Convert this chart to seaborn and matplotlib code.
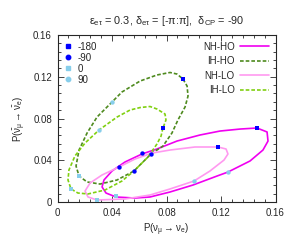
import numpy as np
import pandas as pd
import matplotlib
matplotlib.use('Agg')
import matplotlib.pyplot as plt
import seaborn as sns
from matplotlib.ticker import MultipleLocator
from matplotlib.lines import Line2D

# curves traced around delta_et = -180 -> 180 (first point is -180)
nh_ho_x = [0.1464, 0.1340, 0.1193, 0.1046, 0.0877, 0.0730, 0.0620, 0.0495, 0.0400, 0.0341, 0.0327, 0.0356,
           0.0429, 0.0569, 0.0679, 0.0826, 0.0995, 0.1171, 0.1251, 0.1413, 0.1508, 0.1545, 0.1538]
nh_ho_y = [0.0709, 0.0699, 0.0680, 0.0642, 0.0584, 0.0508, 0.0460, 0.0383, 0.0297, 0.0211, 0.0144, 0.0086,
           0.0048, 0.0038, 0.0048, 0.0096, 0.0163, 0.0249, 0.0287, 0.0393, 0.0498, 0.0584, 0.0671]

ih_ho_x = [0.0921, 0.0951, 0.0958, 0.0936, 0.0884, 0.0840, 0.0774, 0.0686, 0.0561, 0.0437, 0.0312, 0.0217,
           0.0158, 0.0136, 0.0158, 0.0217, 0.0290, 0.0400, 0.0473, 0.0606, 0.0730, 0.0826, 0.0877]
ih_ho_y = [0.1178, 0.1111, 0.1015, 0.0910, 0.0786, 0.0661, 0.0536, 0.0460, 0.0297, 0.0211, 0.0172, 0.0192,
           0.0249, 0.0345, 0.0498, 0.0661, 0.0814, 0.0958, 0.1054, 0.1159, 0.1217, 0.1241, 0.1226]

nh_lo_x = [0.1178, 0.1009, 0.0826, 0.0694, 0.0569, 0.0451, 0.0327, 0.0239, 0.0202, 0.0224, 0.0290, 0.0495,
           0.0679, 0.0826, 0.1002, 0.1119, 0.1222, 0.1251, 0.1237]
nh_lo_y = [0.0527, 0.0527, 0.0498, 0.0469, 0.0412, 0.0335, 0.0259, 0.0182, 0.0105, 0.0048, 0.0019, 0.0029,
           0.0067, 0.0125, 0.0201, 0.0297, 0.0402, 0.0460, 0.0508]

ih_lo_x = [0.0774, 0.0760, 0.0730, 0.0664, 0.0561, 0.0473, 0.0349, 0.0224, 0.0150, 0.0099, 0.0077, 0.0084,
           0.0128, 0.0202, 0.0305, 0.0437, 0.0532, 0.0606, 0.0679, 0.0730, 0.0789, 0.0796]
ih_lo_y = [0.0709, 0.0632, 0.0556, 0.0431, 0.0297, 0.0201, 0.0115, 0.0077, 0.0086, 0.0125, 0.0211, 0.0307,
           0.0441, 0.0565, 0.0690, 0.0814, 0.0881, 0.0905, 0.0915, 0.0891, 0.0843, 0.0786]

# marker points, order: NH-HO, IH-HO, NH-LO, IH-LO
m180_x = [0.1464, 0.0921, 0.1178, 0.0774]
m180_y = [0.0709, 0.1178, 0.0527, 0.0709]
m90n_x = [0.0620, 0.0686, 0.0451, 0.0561]
m90n_y = [0.0469, 0.0460, 0.0335, 0.0297]
m0_x = [0.0429, 0.0158, 0.0290, 0.0099]
m0_y = [0.0057, 0.0249, 0.0019, 0.0125]
m90_x = [0.1251, 0.0400, 0.1002, 0.0305]
m90_y = [0.0287, 0.0958, 0.0201, 0.0690]

sns.set_style('ticks')
plt.rcParams['font.family'] = ['Liberation Sans', 'DejaVu Sans']
plt.rcParams['mathtext.fontset'] = 'custom'
plt.rcParams['mathtext.rm'] = 'Liberation Sans'
plt.rcParams['mathtext.default'] = 'regular'
plt.rcParams['font.size'] = 7

fig = plt.figure(figsize=(2.94, 2.45), dpi=100)
ax = fig.add_axes([0.1956, 0.1755, 0.7415, 0.6816])

curves = [
    ('NH-HO', nh_ho_x, nh_ho_y, '#f000f0', '-', 1.2),
    ('IH-HO', ih_ho_x, ih_ho_y, '#4e8a1e', (0, (2.2, 1.2)), 1.2),
    ('NH-LO', nh_lo_x, nh_lo_y, '#ff99f0', '-', 1.2),
    ('IH-LO', ih_lo_x, ih_lo_y, '#80d010', (0, (2.2, 1.2)), 1.2),
]
line_handles = []
for name, xs, ys, col, ls, lw in curves:
    df = pd.DataFrame({'x': xs + [xs[0]], 'y': ys + [ys[0]]})
    sns.lineplot(data=df, x='x', y='y', sort=False, estimator=None, color=col,
                 linestyle=ls, linewidth=lw, ax=ax)
    line_handles.append(Line2D([], [], color=col, linestyle=ls, linewidth=lw, label=name))

markers = [
    ('-180', m180_x, m180_y, '#0000ff', 's'),
    ('-90', m90n_x, m90n_y, '#0000ff', 'o'),
    ('0', m0_x, m0_y, '#87ceeb', 's'),
    ('90', m90_x, m90_y, '#87ceeb', 'o'),
]
mark_handles = []
for name, xs, ys, col, mk in markers:
    sns.scatterplot(x=xs, y=ys, color=col, marker=mk, s=10, linewidth=0, zorder=5, ax=ax)
    mark_handles.append(Line2D([], [], color=col, marker=mk, linestyle='none', markersize=3.2, label=name))

ax.set_xlim(0, 0.16)
ax.set_ylim(0, 0.16)
ax.set_xticks([0, 0.04, 0.08, 0.12, 0.16])
ax.set_yticks([0, 0.04, 0.08, 0.12, 0.16])
ax.set_xticklabels(['0', '0.04', '0.08', '0.12', '0.16'])
ax.set_yticklabels(['0', '0.04', '0.08', '0.12', '0.16'])
ax.xaxis.set_minor_locator(MultipleLocator(0.008))
ax.yaxis.set_minor_locator(MultipleLocator(0.008))
ax.tick_params(which='both', direction='in', top=True, right=True, width=0.6, labelsize=7, pad=4)
ax.tick_params(which='major', length=4)
ax.tick_params(which='minor', length=2)
for sp in ax.spines.values():
    sp.set_linewidth(0.8)

ax.set_xlabel(r'P($\nu_\mu \rightarrow \nu_e$)', fontsize=7, labelpad=3)
ax.set_ylabel(r'P($\bar{\nu}_\mu \rightarrow \bar{\nu}_e$)', fontsize=7, labelpad=4)
ax.set_title(r'$\varepsilon_{e\tau}$ = 0.3, $\delta_{e\tau}$ = [-$\pi$:$\pi$],  $\delta_{CP}$ = -90',
             fontsize=7.8, pad=8)

leg1 = ax.legend(handles=line_handles, loc='upper right', markerfirst=False, frameon=False,
                 handlelength=3.0, labelspacing=0.45, handletextpad=0.5, borderaxespad=0.3, fontsize=7)
ax.add_artist(leg1)
ax.legend(handles=mark_handles, loc='upper left', frameon=False, handlelength=0.8,
          labelspacing=0.1, handletextpad=0.6, borderaxespad=0.3, fontsize=7)

fig.savefig('out.png', dpi=100)
